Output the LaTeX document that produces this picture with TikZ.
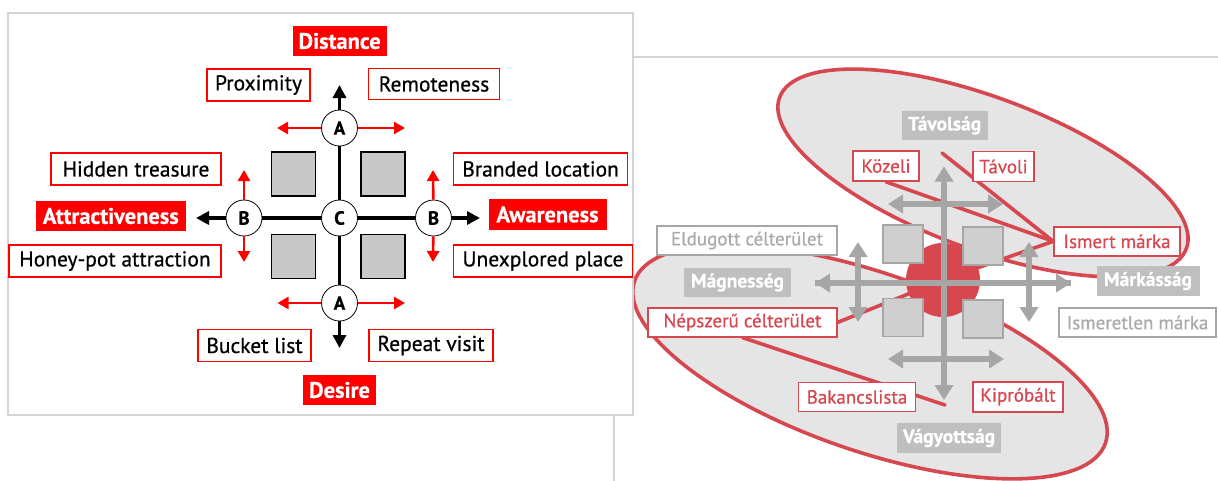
\documentclass[tikz,border=0pt]{standalone}
\usepackage{fontspec}
\setmainfont{PT Sans}[FakeBold=0.5]
\usetikzlibrary{arrows.meta}

\definecolor{pure}{RGB}{255,0,0}
\definecolor{soft}{RGB}{214,71,79}
\definecolor{axisgray}{RGB}{166,166,166}
\definecolor{tilegray}{RGB}{207,207,207}
\definecolor{ltile}{RGB}{200,200,200}
\definecolor{tagfill}{RGB}{191,191,191}
\definecolor{blobfill}{RGB}{229,229,229}
\definecolor{framegray}{RGB}{212,212,212}
\definecolor{paletext}{RGB}{170,170,170}

\newfontfamily\medfont{PT Sans}[FakeBold=0.6]
\newcommand\lblfont{\medfont\fontsize{21.5}{25}\selectfont}
\newcommand\hdfont{\fontsize{22.5}{26}\selectfont\bfseries}
\newcommand\smfont{\medfont\fontsize{19}{22}\selectfont}
\newcommand\smbold{\fontsize{19.5}{22}\selectfont\bfseries}

\pgfdeclarelayer{paper}
\pgfdeclarelayer{ground}
\pgfdeclarelayer{links}
\pgfdeclarelayer{tiles}
\pgfsetlayers{paper,ground,links,tiles,main}

\tikzset{
  sz/.style 2 args={minimum width=#1pt, minimum height=#2pt, inner sep=0pt},
  wbox/.style={draw=pure, line width=1.6pt, fill=white, font=\lblfont, text=black},
  rbox/.style={fill=pure, font=\hdfont, text=white},
  ring/.style={circle, draw=black, line width=0.8pt, fill=white, minimum size=36pt,
    inner sep=0pt, font=\fontsize{19}{22}\selectfont\bfseries},
  bigaxis/.style={line width=3.5pt, black,
    {Triangle[length=13pt,width=13pt]}-{Triangle[length=13pt,width=13pt]}},
  redarrow/.style={line width=2.6pt, pure, -{Triangle[length=11pt,width=12pt]}},
  ltilebox/.style={draw=black, line width=1.3pt, fill=ltile, minimum width=44pt,
    minimum height=44pt, inner sep=0pt},
  sbox/.style={draw=soft, line width=1.6pt, fill=white, font=\smfont, text=soft},
  pbox/.style={draw=axisgray, line width=1.6pt, fill=white, font=\smfont, text=paletext},
  gtag/.style={fill=tagfill, font=\smbold, text=white},
  rtile/.style={draw=axisgray, line width=1.6pt, fill=tilegray, inner sep=0pt},
  garrow/.style={line width=6pt, axisgray,
    {Triangle[length=15pt,width=18pt]}-{Triangle[length=15pt,width=18pt]}},
  gsingle/.style={line width=6pt, axisgray, -{Triangle[length=15pt,width=18pt]}},
  link/.style={soft, line width=3.6pt, line cap=round},
  blobline/.style={soft, line width=3.6pt},
}

\begin{document}
\begin{tikzpicture}[x=1pt,y=-1pt]
\useasboundingbox (0,0) rectangle (1218,480);
\begin{pgfonlayer}{paper}
  \fill[white] (0,0) rectangle (1218,480);
\end{pgfonlayer}

% ---------- right-hand figure ----------
\begin{pgfonlayer}{ground}
  \draw[framegray, line width=1.5pt] (614,481) -- (614,57) -- (1219,57);
  \coordinate (eu) at (983,173);
  \coordinate (el) at (870,362);
  \fill[blobfill, rotate around={-20.4:(eu)}] (eu) ellipse [x radius=217pt, y radius=76pt];
  \fill[blobfill, rotate around={-19:(el)}] (el) ellipse [x radius=249pt, y radius=89pt];
  \draw[blobline, rotate around={-20.4:(eu)}] (eu) ellipse [x radius=217pt, y radius=76pt];
  \draw[blobline, rotate around={-19:(el)}] (el) ellipse [x radius=249pt, y radius=89pt];
\end{pgfonlayer}

% labels of the right-hand figure
\node[gtag, sz={86}{29}] (tav) at (944.7,125.5) {Távolság};
\node[sbox, sz={66}{30}] (koz) at (886,166) {Közeli};
\node[sbox, sz={61}{30}] (tavoli) at (1003.5,166.5) {Távoli};
\node[sbox, sz={126}{29}] (ism) at (1117,241.3) {Ismert márka};
\node[gtag, sz={103}{30}] (mark) at (1148,281) {Márkásság};
\node[pbox, sz={157}{29}] (isml) at (1137.5,322.5) {Ismeretlen márka};
\node[pbox, sz={180}{29}] (eld) at (747,240.5) {Eldugott célterület};
\node[gtag, sz={107}{29}] (magn) at (737.5,282.5) {Mágnesség};
\node[sbox, sz={189}{29}] (nep) at (742.5,322.3) {Népszerű célterület};
\node[sbox, sz={117}{29}] (bak) at (857,397) {Bakancslista};
\node[sbox, sz={90}{30}] (kip) at (1018,396.7) {Kipróbált};
\node[gtag, sz={104}{30}] (vagy) at (949,438) {Vágyottság};

% red core and tiles
\coordinate (core) at (943,280);
\begin{pgfonlayer}{tiles}
  \node[circle, fill=soft, minimum size=74pt, inner sep=0pt] (blob) at (core) {};
  \node[rtile, sz={40}{38}] (t1) at (902.7,244) {};
  \node[rtile, sz={40}{38}] (t2) at (983,246) {};
  \node[rtile, sz={40}{38}] (t3) at (902.7,317.5) {};
  \node[rtile, sz={40}{38}] (t4) at (983,319) {};
\end{pgfonlayer}

% red links
\coordinate (tvtop) at (942,153);
\coordinate (bakend) at (945,405);
\begin{pgfonlayer}{links}
  \draw[link] (koz.south) -- (ism.west);
  \draw[link] (tvtop) -- (ism.west);
  \draw[link] (ism.west) -- (core);
  \draw[link] (nep.east) -- (core);
  \draw[link] (nep.south) -- (bakend);
\end{pgfonlayer}

% grey axes
\coordinate (gvt) at (944,166.5);
\coordinate (gvb) at (944,400);
\coordinate (ghl) at (815,283);
\coordinate (ghr) at (1071,283);
\draw[garrow] (gvb) -- (gvt);
\draw[gsingle] (ghl) -- (ghr);
\draw[gsingle] (ghr) -- (ghl);
\coordinate (a1) at (888,204);  \coordinate (a2) at (1003,204);
\coordinate (b1) at (888,359);  \coordinate (b2) at (1004,359);
\coordinate (c1) at (858,242);  \coordinate (c2) at (858,322);
\coordinate (d1) at (1029,242); \coordinate (d2) at (1029,322);
\draw[garrow] (a1) -- (a2);
\draw[garrow] (b1) -- (b2);
\draw[garrow] (c1) -- (c2);
\draw[garrow] (d1) -- (d2);

% ---------- left-hand figure ----------
\draw[framegray, line width=1.8pt, fill=white] (8,13) rectangle (633,415);

\coordinate (vTop) at (339.5,85);
\coordinate (vBot) at (339.5,348);
\coordinate (hL) at (196,218);
\coordinate (hR) at (480,218);
\draw[bigaxis] (vBot) -- (vTop);
\draw[bigaxis] (hL) -- (hR);

\node[ltilebox] (q1) at (293.5,174) {};
\node[ltilebox] (q2) at (383,174) {};
\node[ltilebox] (q3) at (293.5,256.5) {};
\node[ltilebox] (q4) at (383,256.5) {};

\node[ring] (An) at (339.5,128) {A};
\node[ring] (As) at (339.5,303) {A};
\node[ring] (C) at (339.5,218) {C};
\node[ring] (Bw) at (244,218) {B};
\node[ring] (Be) at (433.5,218) {B};

\coordinate (anl) at (277,128);  \coordinate (anr) at (405,128);
\coordinate (asl) at (277.5,303); \coordinate (asr) at (405,303);
\coordinate (bwu) at (244,170);  \coordinate (bwd) at (244,262);
\coordinate (beu) at (433,170);  \coordinate (bed) at (433,262);
\draw[redarrow] (An) -- (anl);
\draw[redarrow] (An) -- (anr);
\draw[redarrow] (As) -- (asl);
\draw[redarrow] (As) -- (asr);
\draw[redarrow] (Bw) -- (bwu);
\draw[redarrow] (Bw) -- (bwd);
\draw[redarrow] (Be) -- (beu);
\draw[redarrow] (Be) -- (bed);

\node[rbox, sz={94}{30}] (dist) at (339.6,41) {Distance};
\node[wbox, sz={103}{32}] (prox) at (258.5,85) {Proximity};
\node[wbox, sz={131}{31}] (remo) at (434,84) {Remoteness};
\node[wbox, sz={170}{32}] (hid) at (136,169) {Hidden treasure};
\node[wbox, sz={174}{32}] (brand) at (540.6,169) {Branded location};
\node[rbox, sz={150}{30}] (attr) at (110.8,216) {Attractiveness};
\node[rbox, sz={118}{31}] (aware) at (547.5,214.5) {Awareness};
\node[wbox, sz={212}{32}] (honey) at (115,261) {Honey-pot attraction};
\node[wbox, sz={179}{32}] (unex) at (543,261) {Unexplored place};
\node[wbox, sz={113}{32}] (buck) at (254.5,345.5) {Bucket list};
\node[wbox, sz={124}{32}] (rep) at (431,345.5) {Repeat visit};
\node[rbox, sz={73}{30}] (des) at (339.5,390) {Desire};
\end{tikzpicture}
\end{document}
